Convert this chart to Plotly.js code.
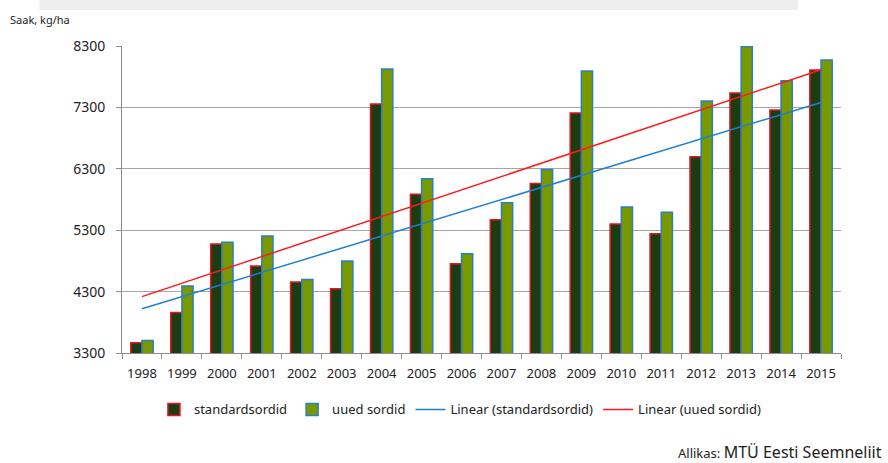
<!DOCTYPE html>
<html>
<head>
<meta charset="utf-8">
<script src="https://cdn.plot.ly/plotly-3.0.1.min.js"></script>
<style>html,body{margin:0;padding:0;background:#fff}#chart{width:888px;height:463px}</style>
</head>
<body>
<div id="chart"></div>
<script>
const years = ["1998","1999","2000","2001","2002","2003","2004","2005","2006","2007","2008","2009","2010","2011","2012","2013","2014","2015"];
const standardsordid = [3468,3960,5076,4715,4455,4346,7354,5885,4753,5472,6060,7209,5400,5243,6496,7535,7258,7910];
const uuedSordid = [3505,4390,5103,5205,4497,4800,7924,6137,4916,5749,6289,7893,5678,5591,7404,8290,7735,8073];
const yTicks = [3300,4300,5300,6300,7300,8300];

function linFit(vals){
  const n = vals.length;
  let sx=0, sy=0, sxx=0, sxy=0;
  vals.forEach((v,i)=>{sx+=i;sy+=v;sxx+=i*i;sxy+=i*v;});
  const b = (n*sxy - sx*sy)/(n*sxx - sx*sx);
  const a = (sy - b*sx)/n;
  return [a, a + b*(n-1)];
}
const trendStd = linFit(standardsordid);
const trendNew = linFit(uuedSordid);
const ends = [years[0], years[years.length-1]];

const font = "Noto Sans, Open Sans, sans-serif";
const traces = [
  {type:"bar", name:"standardsordid", x:years, y:standardsordid,
   marker:{color:"#1b3d14", line:{color:"#e8141b", width:1.5}}},
  {type:"bar", name:"uued sordid", x:years, y:uuedSordid,
   marker:{color:"#789a00", line:{color:"#2b7fc1", width:1.5}}},
  {type:"scatter", mode:"lines", name:"Linear (standardsordid)", x:ends, y:trendStd,
   line:{color:"#1f7fd0", width:1.5}},
  {type:"scatter", mode:"lines", name:"Linear (uued sordid)", x:ends, y:trendNew,
   line:{color:"#ff1a1a", width:1.5}}
];

const layout = {
  width:888, height:463,
  margin:{l:122, r:47, t:46, b:110},
  paper_bgcolor:"#fff", plot_bgcolor:"rgba(0,0,0,0)",
  barmode:"group", bargap:0.44, bargroupgap:0,
  font:{family:font, size:12, color:"#222"},
  showlegend:true,
  legend:{orientation:"h", x:0.47, xanchor:"center", y:-0.135, yanchor:"top",
    font:{family:font, size:13, color:"#222"}, itemwidth:30, traceorder:"normal"},
  xaxis:{type:"category", showline:true, linecolor:"#8c8c8c", linewidth:1,
    ticks:"outside", tickson:"boundaries", ticklen:5, tickcolor:"#8c8c8c", tickangle:0,
    ticklabelstandoff:8,
    showgrid:false, tickfont:{family:font, size:13, color:"#222"}},
  yaxis:{range:[3300,8300], tickvals:yTicks, ticktext:yTicks.map(String),
    showline:true, linecolor:"#8c8c8c", linewidth:1,
    ticks:"outside", ticklen:5, tickcolor:"#8c8c8c", ticklabelstandoff:8,
    showgrid:true, gridcolor:"#a6a6a6", gridwidth:1, zeroline:false,
    tickfont:{family:font, size:14, color:"#222"}},
  annotations:[
    {text:"Saak, kg/ha", xref:"paper", yref:"paper", x:-0.159, y:1.085, xanchor:"left", yanchor:"middle",
     showarrow:false, font:{family:font, size:11, color:"#222"}},
    {text:"<span style='font-size:13px'>Allikas: </span>MTÜ Eesti Seemneliit", xref:"paper", yref:"paper",
     x:1.06, y:-0.322, xanchor:"right", yanchor:"middle", showarrow:false,
     font:{family:font, size:16, color:"#222"}}
  ],
  shapes:[
    {type:"rect", xref:"paper", yref:"paper", x0:-0.115, x1:0.94, y0:1.117, y1:1.15,
     fillcolor:"#eeeeee", line:{width:0}, layer:"below"}
  ]
};

Plotly.newPlot("chart", traces, layout, {displayModeBar:false, staticPlot:true});
</script>
</body>
</html>
